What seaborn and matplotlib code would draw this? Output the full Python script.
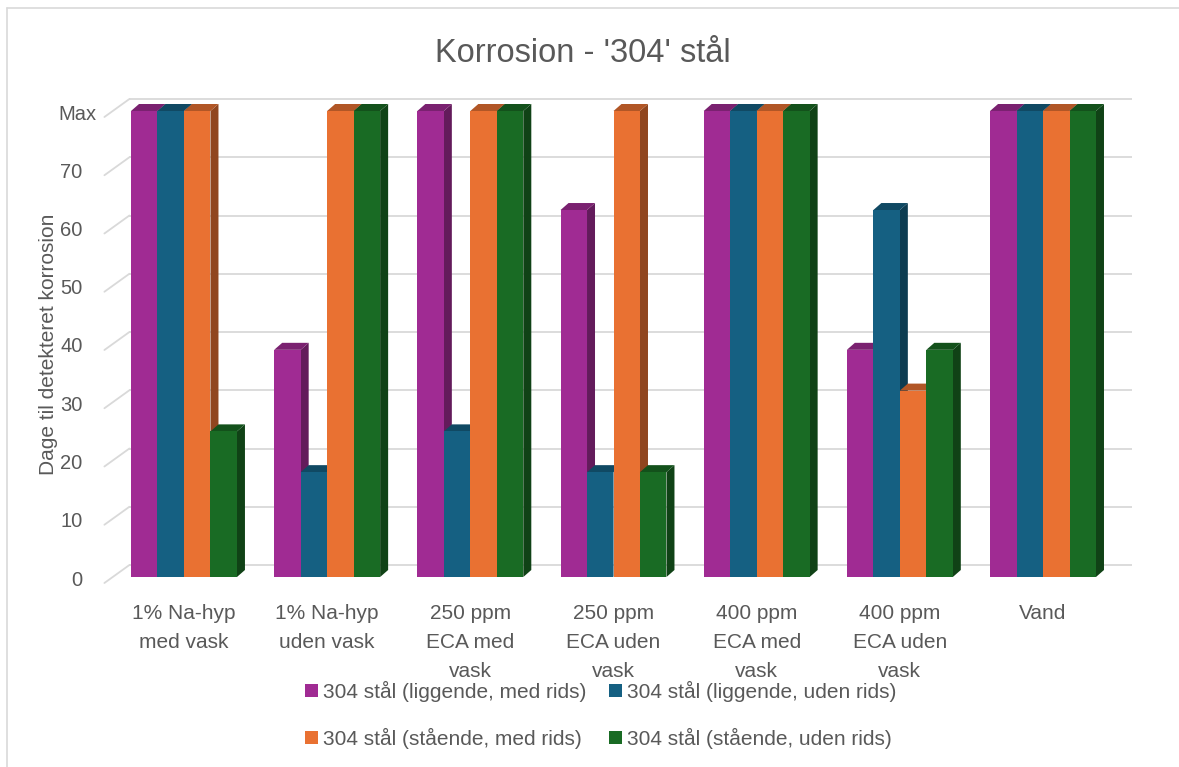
import numpy as np
import pandas as pd
import matplotlib
matplotlib.use("Agg")
import matplotlib.pyplot as plt
from matplotlib.patches import Polygon, Patch
from matplotlib.lines import Line2D
import matplotlib.transforms as mtransforms
import seaborn as sns

# ---- data -------------------------------------------------------------
categories = [
    "1% Na-hyp\nmed vask",
    "1% Na-hyp\nuden vask",
    "250 ppm\nECA med\nvask",
    "250 ppm\nECA uden\nvask",
    "400 ppm\nECA med\nvask",
    "400 ppm\nECA uden\nvask",
    "Vand",
]
series = [
    "304 stål (liggende, med rids)",
    "304 stål (liggende, uden rids)",
    "304 stål (stående, med rids)",
    "304 stål (stående, uden rids)",
]
liggende_med = [80, 39, 80, 63, 80, 39, 80]
liggende_uden = [80, 18, 25, 18, 80, 63, 80]
staaende_med = [80, 80, 80, 80, 80, 32, 80]
staaende_uden = [25, 80, 80, 18, 80, 39, 80]
y_ticks = [0, 10, 20, 30, 40, 50, 60, 70, 80]
y_tick_labels = ["0", "10", "20", "30", "40", "50", "60", "70", "Max"]
colors = ["#A02B93", "#156082", "#E97132", "#196B24"]

values = [liggende_med, liggende_uden, staaende_med, staaende_uden]
df = pd.DataFrame(
    [(c, s, v) for s, vals in zip(series, values) for c, v in zip(categories, vals)],
    columns=["kategori", "serie", "dage"],
)

# ---- style ------------------------------------------------------------
sns.set_theme(style="white")
plt.rcParams["font.family"] = ["Liberation Sans", "DejaVu Sans"]
TXT = "#595959"
GRID = "#D9D9D9"

W, H = 1179, 767
fig = plt.figure(figsize=(W / 100, H / 100), dpi=100)
ax = fig.add_axes([112.4 / W, (H - 577) / H, 1002.2 / W, 466 / H])

sns.barplot(
    data=df, x="kategori", y="dage", hue="serie", order=categories,
    hue_order=series, palette=colors, width=0.74, gap=0, saturation=1,
    errorbar=None, legend=False, ax=ax,
)
ax.set_xlim(-0.5, len(categories) - 0.5)
ax.set_ylim(0, 80)
for sp in ax.spines.values():
    sp.set_visible(False)
ax.set_xlabel("")
ax.set_ylabel("")

# pixel -> data conversion for the pseudo-3D depth
fig.canvas.draw()
px_x = ax.bbox.width / (ax.get_xlim()[1] - ax.get_xlim()[0])
px_y = ax.bbox.height / (ax.get_ylim()[1] - ax.get_ylim()[0])
bar_dx, bar_dy = 8 / px_x, 7 / px_y
wall_dx, wall_dy = 17 / px_x, 12 / px_y
lead_dx, lead_dy = 8 / px_x, 6 / px_y

x0, x1 = ax.get_xlim()
for v in y_ticks:
    ax.plot([x0 + wall_dx, x1 + wall_dx], [v + wall_dy, v + wall_dy],
            color=GRID, lw=1.3, zorder=1, clip_on=False, solid_capstyle="butt")
    ax.plot([x0 - lead_dx, x0 + wall_dx], [v - lead_dy, v + wall_dy],
            color=GRID, lw=1.3, zorder=1, clip_on=False)


def shade(c, f):
    r, g, b = matplotlib.colors.to_rgb(c)
    return (r * f, g * f, b * f)


bars = sorted(ax.patches, key=lambda p: p.get_x())
for i, p in enumerate(bars):
    bx, w, h = p.get_x(), p.get_width(), p.get_height()
    fc = p.get_facecolor()
    z = 3 + 3 * i
    side = Polygon([(bx + w, 0), (bx + w + bar_dx, bar_dy),
                    (bx + w + bar_dx, h + bar_dy), (bx + w, h)],
                   closed=True, facecolor=shade(fc, 0.62), edgecolor="none",
                   zorder=z, clip_on=False)
    top = Polygon([(bx, h), (bx + bar_dx, h + bar_dy),
                   (bx + w + bar_dx, h + bar_dy), (bx + w, h)],
                  closed=True, facecolor=shade(fc, 0.76), edgecolor="none",
                  zorder=z + 1, clip_on=False)
    ax.add_patch(side)
    ax.add_patch(top)
    p.set_zorder(z + 2)
    p.set_edgecolor("none")
    p.set_clip_on(False)

# ---- axis labels -------------------------------------------------------
ax.set_yticks([])
lab_tr = mtransforms.blended_transform_factory(ax.transAxes, ax.transData)
for v, lab in zip(y_ticks, y_tick_labels):
    shift = 14 if lab == "Max" else 0
    off = mtransforms.ScaledTranslation((-30 + shift) / 100, -3 / 100, fig.dpi_scale_trans)
    ax.text(0, v, lab, transform=lab_tr + off, ha="right", va="center",
            fontsize=14.5, color=TXT)

ax.set_xticks(range(len(categories)))
ax.set_xticklabels(categories, fontsize=15, color=TXT, linespacing=1.68)
ax.tick_params(axis="x", length=0, pad=19.5)

ax.set_ylabel("Dage til detekteret korrosion", fontsize=15, color=TXT)
ax.yaxis.set_label_coords(-0.054, 0.5)

fig.text(583 / W, 1 - 53 / H, "Korrosion - '304' stål", ha="center", va="center",
         fontsize=23.5, color=TXT)

# legend filled row by row
order = [0, 2, 1, 3]
handles = [Patch(facecolor=colors[k], edgecolor="none") for k in order]
labels = [series[k] for k in order]
fig.legend(handles, labels, loc="center", bbox_to_anchor=(601 / W, 1 - 715 / H),
           ncol=2, frameon=False, fontsize=15, handlelength=0.6, handleheight=0.6,
           handletextpad=0.25, columnspacing=1.1, labelspacing=1.25,
           labelcolor=TXT)

# chart-area border
fig.add_artist(Line2D([7 / W, 7 / W], [0, 1 - 8 / H], color=GRID, lw=1.2))
fig.add_artist(Line2D([7 / W, 1], [1 - 8 / H, 1 - 8 / H], color=GRID, lw=1.2))

fig.savefig("out.png", dpi=100)
